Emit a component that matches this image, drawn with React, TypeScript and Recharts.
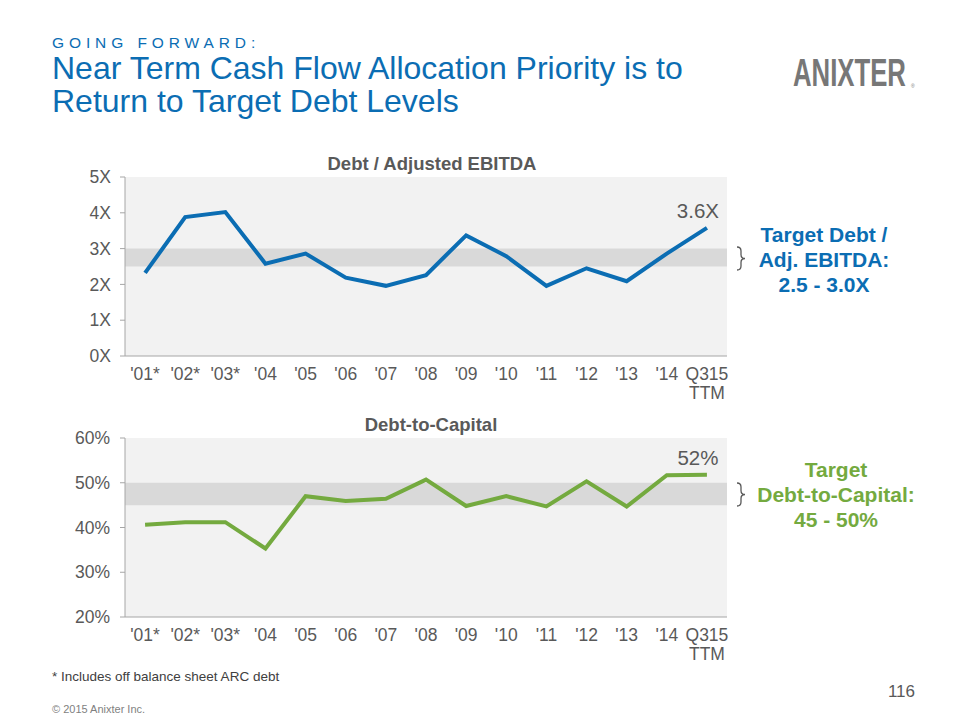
import React from "react";
import {
  LineChart,
  Line,
  XAxis,
  YAxis,
  ReferenceArea,
  LabelList,
} from "recharts";

const categories = ["'01*", "'02*", "'03*", "'04", "'05", "'06", "'07", "'08", "'09", "'10", "'11", "'12", "'13", "'14", "Q315\nTTM"];
const debtEbitda = [2.32, 3.88, 4.02, 2.58, 2.86, 2.19, 1.96, 2.26, 3.37, 2.79, 1.96, 2.45, 2.09, 2.86, 3.58];
const debtCapital = [40.6, 41.2, 41.2, 35.3, 47.0, 45.9, 46.4, 50.7, 44.8, 47.0, 44.7, 50.3, 44.7, 51.7, 51.8];
const ebitdaTicks = [0, 1, 2, 3, 4, 5];
const capitalTicks = [20, 30, 40, 50, 60];
const ebitdaTarget = [2.5, 3.0];
const capitalTarget = [45, 50];
const ebitdaLastLabel = "3.6X";
const capitalLastLabel = "52%";

const FONT = "'Liberation Sans', Arial, Helvetica, sans-serif";
const BLUE = "#0b6db3";
const GREEN = "#74aa3f";
const GRAY = "#595959";
const AXIS = "#a6a6a6";

const catIndex = categories.map((_, i) => i);
const ebitdaData = categories.map((c, i) => ({ idx: i, cat: c, v: debtEbitda[i] }));
const capitalData = categories.map((c, i) => ({ idx: i, cat: c, v: debtCapital[i] }));

const CatTick = (props: any) => {
  const { x, y, payload } = props;
  const lines = String(categories[payload.value] ?? "").split("\n");
  return (
    <g transform={`translate(${x},${y})`}>
      <text textAnchor="middle" fontFamily={FONT} fontSize={17.5} fill={GRAY}>
        {lines.map((l, i) => (
          <tspan key={i} x={0} y={24 + i * 19}>
            {l}
          </tspan>
        ))}
      </text>
    </g>
  );
};

const makeLastLabel = (text: string, n: number) => (props: any) => {
  const { x, y, index } = props;
  if (index !== n - 1) return null;
  return (
    <text x={x - 9} y={y - 10} textAnchor="middle" fontFamily={FONT} fontSize={20.5} fill={GRAY}>
      {text}
    </text>
  );
};

const Brace = ({ x, y0, y1 }: { x: number; y0: number; y1: number }) => {
  const h = y1 - y0;
  const half = h / 2;
  const d = `M ${x} ${y0} q 4 0 4 4 v ${half - 8} q 0 4 4 4 q -4 0 -4 4 v ${half - 8} q 0 4 -4 4`;
  return <path d={d} fill="none" stroke={GRAY} strokeWidth={1.3} />;
};

const xAxisCommon = {
  dataKey: "idx",
  type: "number" as const,
  domain: [-0.5, categories.length - 0.5],
  allowDataOverflow: true,
  ticks: catIndex,
  interval: 0 as const,
  tickLine: false,
  tickSize: 0,
  tickMargin: 0,
  height: 50,
  stroke: AXIS,
};

export default function App() {
  return (
    <div style={{ position: "absolute", left: 0, top: 0, width: 960, height: 720, background: "#fff", overflow: "hidden" }}>
      <div style={{ position: "absolute", left: 0, top: 140 }}>
        <LineChart width={960} height={270} data={ebitdaData} margin={{ top: 37, right: 233, bottom: 4, left: 65 }}>
          <ReferenceArea y1={0} y2={5} fill="#f2f2f2" fillOpacity={1} stroke="none" />
          <ReferenceArea y1={ebitdaTarget[0]} y2={ebitdaTarget[1]} fill="#d9d9d9" fillOpacity={1} stroke="none" />
          <XAxis {...xAxisCommon} tick={<CatTick />} />
          <YAxis
            domain={[0, 5]}
            ticks={ebitdaTicks}
            width={60}
            tickSize={5}
            tickMargin={9}
            stroke={AXIS}
            tickFormatter={(v: number) => `${v}X`}
            tick={{ fontFamily: FONT, fontSize: 17.5, fill: GRAY }}
          />
          <Line
            type="linear"
            dataKey="v"
            stroke={BLUE}
            strokeWidth={4}
            dot={false}
            isAnimationActive={false}
          >
            <LabelList dataKey="v" content={makeLastLabel(ebitdaLastLabel, ebitdaData.length)} />
          </Line>
        </LineChart>
      </div>
      <div style={{ position: "absolute", left: 0, top: 400 }}>
        <LineChart width={960} height={270} data={capitalData} margin={{ top: 38, right: 233, bottom: 3, left: 65 }}>
          <ReferenceArea y1={20} y2={60} fill="#f2f2f2" fillOpacity={1} stroke="none" />
          <ReferenceArea y1={capitalTarget[0]} y2={capitalTarget[1]} fill="#d9d9d9" fillOpacity={1} stroke="none" />
          <XAxis {...xAxisCommon} tick={<CatTick />} />
          <YAxis
            domain={[20, 60]}
            ticks={capitalTicks}
            width={60}
            tickSize={5}
            tickMargin={10}
            stroke={AXIS}
            tickFormatter={(v: number) => `${v}%`}
            tick={{ fontFamily: FONT, fontSize: 17.5, fill: GRAY }}
          />
          <Line
            type="linear"
            dataKey="v"
            stroke={GREEN}
            strokeWidth={4}
            dot={false}
            isAnimationActive={false}
          >
            <LabelList dataKey="v" content={makeLastLabel(capitalLastLabel, capitalData.length)} />
          </Line>
        </LineChart>
      </div>
      <svg
        width={960}
        height={720}
        style={{ position: "absolute", left: 0, top: 0, pointerEvents: "none" }}
        fontFamily={FONT}
      >
        <text x={52} y={48} fontSize={15.5} fill={BLUE} style={{ letterSpacing: "4.9px" }}>
          GOING FORWARD:
        </text>
        <text x={52} y={79} fontSize={32} fill={BLUE}>
          Near Term Cash Flow Allocation Priority is to
        </text>
        <text x={52} y={112} fontSize={32} fill={BLUE}>
          Return to Target Debt Levels
        </text>

        <g transform="translate(793,86) scale(0.66,1)">
          <text x={0} y={0} fontSize={39} fontWeight="bold" fill="#777777">
            ANIXTER
          </text>
        </g>
        <text x={911} y={88} fontSize={5} fill="#777777">
          ®
        </text>

        <text x={432} y={170} textAnchor="middle" fontSize={18.5} fontWeight="bold" fill={GRAY}>
          Debt / Adjusted EBITDA
        </text>
        <text x={431} y={431} textAnchor="middle" fontSize={18.5} fontWeight="bold" fill={GRAY}>
          Debt-to-Capital
        </text>

        <Brace x={737} y0={247} y1={270} />
        <text textAnchor="middle" fontSize={21} fontWeight="bold" fill={BLUE}>
          <tspan x={824} y={242}>Target Debt /</tspan>
          <tspan x={824} y={267}>Adj. EBITDA:</tspan>
          <tspan x={824} y={292}>2.5 - 3.0X</tspan>
        </text>

        <Brace x={737} y0={483} y1={506} />
        <text textAnchor="middle" fontSize={21} fontWeight="bold" fill={GREEN}>
          <tspan x={836} y={477}>Target</tspan>
          <tspan x={836} y={502}>Debt-to-Capital:</tspan>
          <tspan x={836} y={527}>45 - 50%</tspan>
        </text>

        <text x={52} y={681} fontSize={13.5} fill="#404040">
          * Includes off balance sheet ARC debt
        </text>
        <text x={915} y={697} textAnchor="end" fontSize={17} fill={GRAY}>
          116
        </text>
        <text x={52} y={713} fontSize={11} fill="#7f7f7f">
          © 2015 Anixter Inc.
        </text>
      </svg>
    </div>
  );
}
